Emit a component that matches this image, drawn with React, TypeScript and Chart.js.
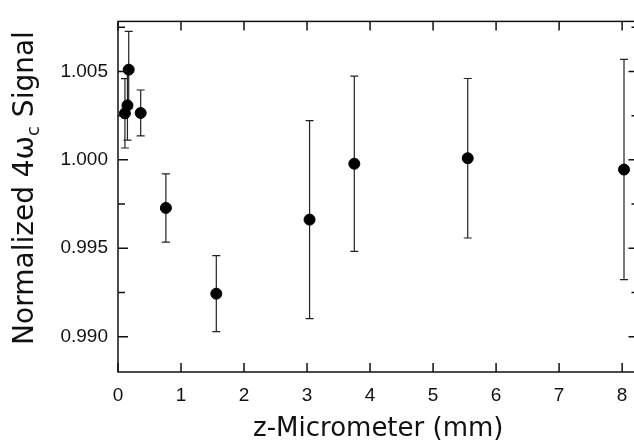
import React, { useEffect, useRef } from 'react';
import { Chart, registerables } from 'chart.js';

Chart.register(...registerables);

// z-Micrometer position (mm)
const zPositions = [0.11, 0.15, 0.17, 0.36, 0.76, 1.56, 3.04, 3.75, 5.55, 8.03];
// Normalized 4ωc signal
const signalValues = [1.00263, 1.00308, 1.0051, 1.00265, 0.99728, 0.99243, 0.99662, 0.99978, 1.00009, 0.99945];
// symmetric error bar half-widths
const signalErrors = [0.00196, 0.00197, 0.00217, 0.0013, 0.00193, 0.00215, 0.0056, 0.00496, 0.00451, 0.00623];

const xTickValues = [0, 1, 2, 3, 4, 5, 6, 7, 8];
const yTickValues = [0.99, 0.9925, 0.995, 0.9975, 1.0, 1.0025, 1.005, 1.0075];
const yLabeledTicks = [0.99, 0.995, 1.0, 1.005];

const xTitle = 'z-Micrometer (mm)';
const yTitleParts = ['Normalized 4\u03C9', 'c', ' Signal'];

const isLabeled = (v: number) => yLabeledTicks.some((t) => Math.abs(t - v) < 1e-9);

const framePlugin = {
  id: 'frameAndErrors',
  beforeDatasetsDraw(chart: any) {
    const { ctx, scales } = chart;
    const xs = scales.x;
    const ys = scales.y;
    ctx.save();
    ctx.strokeStyle = '#222';
    ctx.lineWidth = 1.2;
    for (let i = 0; i < zPositions.length; i++) {
      const px = xs.getPixelForValue(zPositions[i]);
      const top = ys.getPixelForValue(signalValues[i] + signalErrors[i]);
      const bot = ys.getPixelForValue(signalValues[i] - signalErrors[i]);
      ctx.beginPath();
      ctx.moveTo(px, top);
      ctx.lineTo(px, bot);
      ctx.moveTo(px - 4, top);
      ctx.lineTo(px + 4, top);
      ctx.moveTo(px - 4, bot);
      ctx.lineTo(px + 4, bot);
      ctx.stroke();
    }
    ctx.restore();
  },
  afterDraw(chart: any) {
    const { ctx, chartArea, scales } = chart;
    const { left, right, top, bottom } = chartArea;
    const xs = scales.x;
    const ys = scales.y;
    ctx.save();
    ctx.strokeStyle = '#111';
    ctx.lineWidth = 1.5;
    ctx.strokeRect(left, top, right - left, bottom - top);
    ctx.beginPath();
    for (const v of xTickValues) {
      const px = xs.getPixelForValue(v);
      ctx.moveTo(px, bottom);
      ctx.lineTo(px, bottom - 9);
      ctx.moveTo(px, top);
      ctx.lineTo(px, top + 9);
    }
    for (const v of yTickValues) {
      const py = ys.getPixelForValue(v);
      const len = isLabeled(v) ? 10 : 7;
      ctx.moveTo(left, py);
      ctx.lineTo(left + len, py);
      ctx.moveTo(right, py);
      ctx.lineTo(right - len, py);
    }
    ctx.stroke();

    // x title
    ctx.fillStyle = '#111';
    ctx.font = '26px "DejaVu Sans"';
    ctx.textAlign = 'center';
    ctx.textBaseline = 'alphabetic';
    ctx.fillText(xTitle, (left + right) / 2, 436);

    // y title with subscript
    const mainFont = '28px "DejaVu Sans"';
    const subFont = '18px "DejaVu Sans"';
    ctx.font = mainFont;
    const w0 = ctx.measureText(yTitleParts[0]).width;
    const w2 = ctx.measureText(yTitleParts[2]).width;
    ctx.font = subFont;
    const w1 = ctx.measureText(yTitleParts[1]).width;
    const total = w0 + w1 + w2;
    ctx.translate(33, 188);
    ctx.rotate(-Math.PI / 2);
    ctx.textAlign = 'left';
    let cx = -total / 2;
    ctx.font = mainFont;
    ctx.fillText(yTitleParts[0], cx, 0);
    cx += w0;
    ctx.font = subFont;
    ctx.fillText(yTitleParts[1], cx, 6);
    cx += w1;
    ctx.font = mainFont;
    ctx.fillText(yTitleParts[2], cx, 0);
    ctx.restore();
  },
};

export default function App() {
  const canvasRef = useRef<HTMLCanvasElement | null>(null);

  useEffect(() => {
    if (!canvasRef.current) return;
    const chart = new Chart(canvasRef.current, {
      type: 'scatter',
      data: {
        datasets: [
          {
            data: zPositions.map((x, i) => ({ x, y: signalValues[i] })),
            backgroundColor: '#000',
            borderColor: '#000',
            pointRadius: 5.5,
            pointHoverRadius: 5.5,
          },
        ],
      },
      options: {
        animation: false,
        responsive: false,
        devicePixelRatio: 1,
        layout: { padding: { left: 0, top: 10, right: 5, bottom: 0 } },
        plugins: { legend: { display: false }, tooltip: { enabled: false } },
        scales: {
          x: {
            type: 'linear',
            min: 0,
            max: 8.26,
            grid: { display: false, drawTicks: false },
            border: { display: false },
            afterBuildTicks: (s: any) => {
              s.ticks = xTickValues.map((v) => ({ value: v }));
            },
            afterFit: (s: any) => {
              s.height = 69;
            },
            ticks: {
              autoSkip: false,
              maxRotation: 0,
              padding: 12,
              color: '#111',
              font: { family: '"Liberation Sans"', size: 19 },
              callback: (v: any) => String(v),
            },
          },
          y: {
            type: 'linear',
            min: 0.988,
            max: 1.00783,
            grid: { display: false, drawTicks: false },
            border: { display: false },
            afterBuildTicks: (s: any) => {
              s.ticks = yTickValues.map((v) => ({ value: v }));
            },
            afterFit: (s: any) => {
              s.width = 118;
            },
            ticks: {
              autoSkip: false,
              padding: 10,
              color: '#111',
              font: { family: '"Liberation Sans"', size: 19 },
              callback: (v: any) => (isLabeled(Number(v)) ? Number(v).toFixed(3) : ''),
            },
          },
        },
      },
      plugins: [framePlugin],
    });
    return () => chart.destroy();
  }, []);

  return (
    <div style={{ position: 'absolute', left: 0, top: 0, width: 634, height: 441, overflow: 'hidden', background: '#fff' }}>
      <canvas ref={canvasRef} width={645} height={441} style={{ display: 'block' }} />
    </div>
  );
}
